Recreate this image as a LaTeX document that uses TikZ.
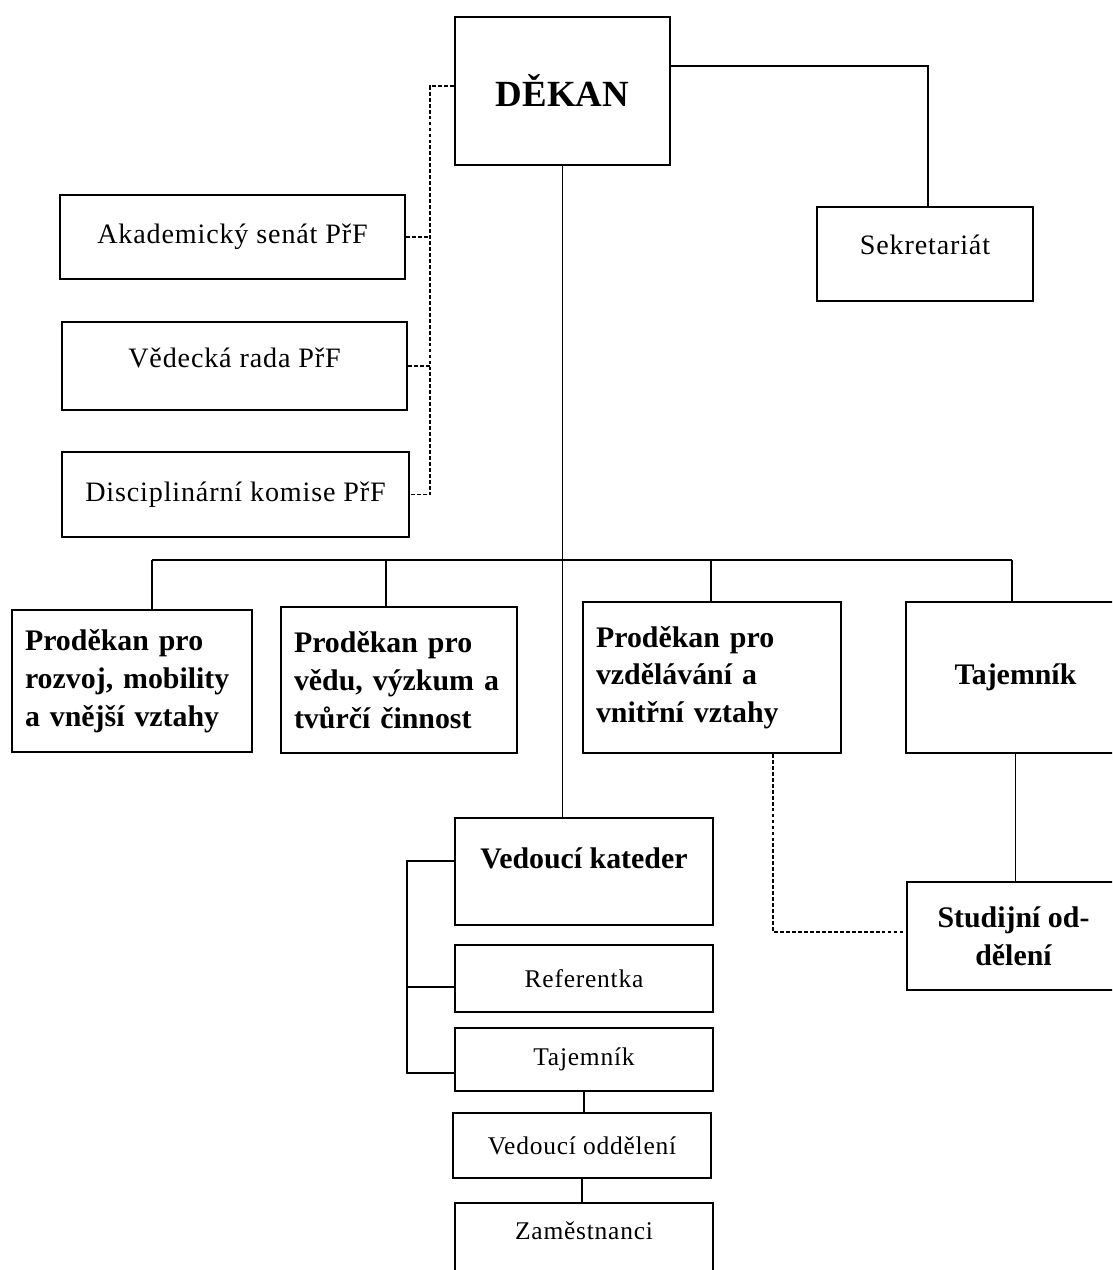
\documentclass[tikz,border=0pt]{standalone}
\usepackage{fontspec}
\setmainfont{Liberation Serif}
\newfontfamily\spaced{Liberation Serif}[LetterSpace=3]
\begin{document}
\begin{tikzpicture}[x=0.02cm, y=-0.02cm, line width=1pt,
    box/.style={draw, rectangle},
    plain/.style={font=\spaced\fontsize{16}{18}\selectfont},
    small/.style={font=\spaced\fontsize{14.5}{17}\selectfont},
    heavy/.style={font=\bfseries\fontsize{17}{21.5}\selectfont, align=left},
    dots/.style={dash pattern=on 2.2pt off 1.2pt, line width=0.7pt}]
    \clip (0,0) rectangle (1112,1270);
    % top
    \node at (562.5,91) [box, minimum width=4.3cm, minimum height=2.96cm, font=\bfseries\fontsize{21}{24}\selectfont] (dekan) {DĚKAN};
    \node at (925,254) [box, plain, minimum width=4.32cm, minimum height=1.88cm, text depth=10pt] (sekr) {Sekretariát};
    \node at (232.5,237) [box, plain, minimum width=6.9cm, minimum height=1.68cm] (senat) {Akademický senát PřF};
    \node at (234.5,366) [box, plain, minimum width=6.9cm, minimum height=1.76cm, text depth=9pt] (rada) {Vědecká rada PřF};
    \node at (235.5,494.5) [box, plain, minimum width=6.94cm, minimum height=1.7cm] (komise) {Disciplinární komise PřF};
    % prodekani
    \node at (132,681) [box, heavy, minimum width=4.8cm, minimum height=2.84cm, text width=4.28cm] (pro1) {Proděkan pro\\ rozvoj, mobility\\ a vnější vztahy};
    \node at (399,680) [box, heavy, minimum width=4.72cm, minimum height=2.92cm, text width=4.2cm] (pro2) {Proděkan pro\\ vědu, výzkum a\\ tvůrčí činnost};
    \node at (712,677.5) [box, heavy, minimum width=5.16cm, minimum height=3.02cm, text width=4.64cm] (pro3) {Proděkan pro\\ vzdělávání a\\ vnitřní vztahy};
    \node at (1015.5,677.5) [box, heavy, minimum width=4.38cm, minimum height=3.02cm] (taj) {Tajemník};
    \node at (1013.5,936) [box, heavy, align=center, minimum width=4.26cm, minimum height=2.16cm] (stud) {Studijní od-\\ dělení};
    % katedry
    \node at (584,871.5) [box, heavy, minimum width=5.16cm, minimum height=2.14cm, text depth=15pt] (kat) {Vedoucí kateder};
    \node at (584,978.5) [box, small, minimum width=5.16cm, minimum height=1.34cm] (ref) {Referentka};
    \node at (584,1059.5) [box, small, minimum width=5.16cm, minimum height=1.26cm] (taj2) {Tajemník};
    \node at (582,1145.5) [box, small, minimum width=5.16cm, minimum height=1.3cm] (oddel) {Vedoucí oddělení};
    \node at (584,1251.5) [box, small, minimum width=5.16cm, minimum height=1.94cm, text depth=24pt] (zam) {Zaměstnanci};
    % spojnice
    \coordinate (sk) at (928,66);
    \draw (dekan.east |- sk) -- (sk) -- (sk |- sekr.north);
    \coordinate (dk) at (430,86);
    \draw[dots] (dekan.west |- dk) -- (dk) -- (dk |- komise.east) -- (komise.east);
    \foreach \n in {senat,rada} \draw[dots] (\n.east) -- (\n.east -| dk);
    \draw (dekan.south) -- (dekan.south |- kat.north);
    \coordinate (b1) at (152,560);
    \coordinate (b2) at (386,560);
    \coordinate (b3) at (711,560);
    \coordinate (b4) at (1012,560);
    \draw (b1) -- (b4);
    \foreach \b/\n in {b1/pro1,b2/pro2,b3/pro3,b4/taj} \draw (\b) -- (\b |- \n.north);
    \coordinate (sd) at (773,932);
    \draw[dots] (sd |- pro3.south) -- (sd) -- (sd -| stud.west);
    \draw (taj.south) -- (taj.south |- stud.north);
    \draw ([yshift=0.21cm]kat.west) -- +(-47,0) |- ([yshift=-0.27cm]taj2.west);
    \draw ([yshift=-0.17cm]ref.west) -- +(-47,0);
    \draw (taj2.south) -- (taj2.south |- oddel.north);
    \draw (oddel.south) -- (oddel.south |- zam.north);
\end{tikzpicture}
\end{document}
